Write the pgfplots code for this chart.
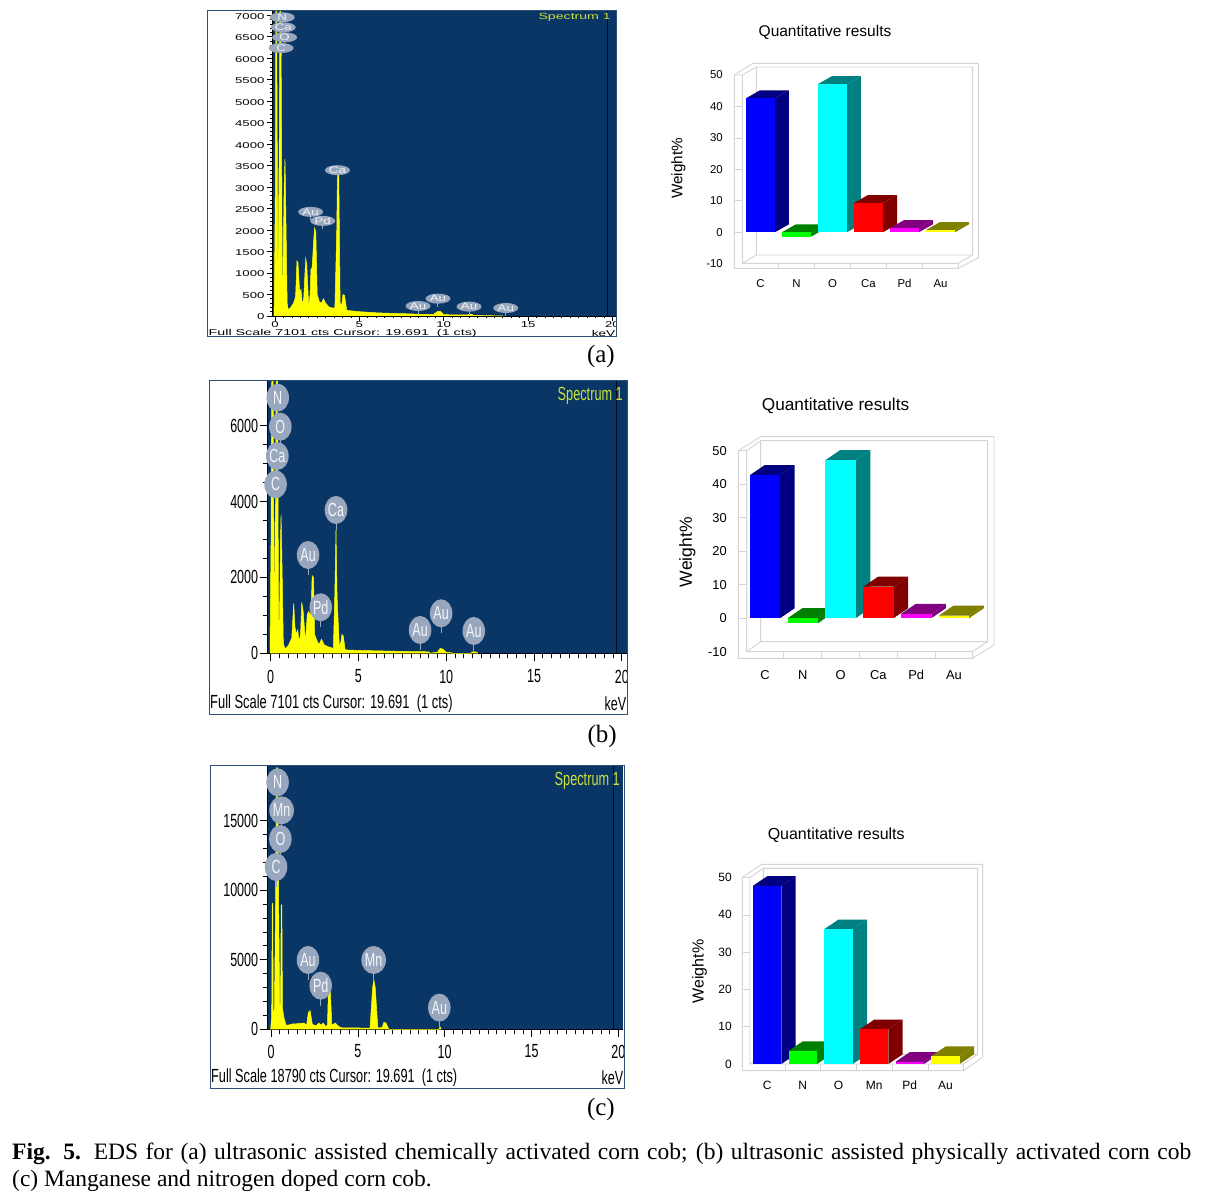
\documentclass[border=0pt]{standalone}
\usepackage{fontspec}
\usepackage{graphicx}
\usepackage{pgfplots}
\pgfplotsset{compat=1.18}
\usetikzlibrary{shapes.geometric}
\setmainfont{Liberation Sans}
\newfontfamily\serif{Liberation Serif}

\definecolor{specbg}{RGB}{10,54,102}
\definecolor{specborder}{RGB}{45,80,120}
\definecolor{spectxt}{RGB}{205,225,60}
\definecolor{bubcol}{RGB}{152,167,190}
\definecolor{framecol}{RGB}{212,212,212}
\definecolor{qblue}{RGB}{0,0,255}
\definecolor{qgreen}{RGB}{0,255,0}
\definecolor{qcyan}{RGB}{0,255,255}
\definecolor{qred}{RGB}{255,0,0}
\definecolor{qmag}{RGB}{255,0,255}
\definecolor{qyel}{RGB}{255,255,0}
\definecolor{cdark}{RGB}{0,0,128}
\definecolor{ndark}{RGB}{0,128,0}
\definecolor{odark}{RGB}{0,128,128}
\definecolor{cadark}{RGB}{128,0,0}
\definecolor{pddark}{RGB}{128,0,128}
\definecolor{audark}{RGB}{128,128,0}

\newcommand{\fs}[1]{\fontsize{#1}{#1}\selectfont}

% spectrum panel: font size, horizontal stretch
\pgfplotsset{
  spec/.style n args={2}{
    scale only axis, clip=false,
    axis x line*=bottom, axis y line*=left,
    axis line style={black,line width=.9pt,-},
    axis background/.style={fill=specbg},
    tick align=outside, tick style={black,line width=.7pt},
    scaled ticks=false,
    xtick={0,5,10,15,20}, minor x tick num=9, ymin=0,
    tick label style={font=\fs{#1}},
    /pgf/number format/1000 sep={},
    xticklabel={\scalebox{#2}[1]{\pgfmathprintnumber[assume math mode=true]{\tick}}},
    yticklabel={\scalebox{#2}[1]{\pgfmathprintnumber[assume math mode=true]{\tick}}},
  },
  yel/.style={fill=qyel,draw=qyel,line width=.5pt},
  cur/.style={color=black!75!specbg,line width=.7pt},
  quant/.style={
    scale only axis, clip=false,
    axis line style={draw=none}, major tick length=0pt,
    ytick={-10,0,10,20,30,40,50}, xtick={0,1,2,3,4,5},
    /pgf/number format/assume math mode=true,
    xticklabel style={text height=9pt,text depth=0pt},
    title={Quantitative results}, ylabel={Weight\%},
  },
}

% labelled bubble with its tail, (a) flat, (b)(c) tall
\newcommand{\bubA}[3]{%
  \draw[bubcol,line width=1pt] (axis cs:#1,#2) -- ++(0pt,-8pt);
  \node[ellipse,fill=bubcol,minimum width=25pt,minimum height=10pt,inner sep=0pt,text=white!85!bubcol] at (axis cs:#1,#2) {\fs{9.5}\scalebox{1.4}[1]{#3}};}
\newcommand{\bubB}[3]{%
  \draw[bubcol,line width=1pt] (axis cs:#1,#2) -- ++(0pt,-20pt);
  \node[ellipse,fill=bubcol,minimum width=22.5pt,minimum height=28pt,inner sep=0pt,text=white!90!bubcol] at (axis cs:#1,#2) {\fs{19}\scalebox{.66}[1]{#3}};}

% one 3D bar: index, value, front colour, dark colour; \hw \dx \dy \bw set per panel
\newcommand{\barbox}[4]{%
  \pgfmathsetmacro\xr{#1+\hw}\pgfmathsetmacro\xl{#1-\hw}%
  \pgfmathsetmacro\xR{\xr+\dx}\pgfmathsetmacro\xL{\xl+\dx}%
  \pgfmathsetmacro\yb{min(#2,0)}\pgfmathsetmacro\yt{max(#2,0)}%
  \pgfmathsetmacro\ybd{\yb+\dy}\pgfmathsetmacro\ytd{\yt+\dy}%
  \addplot[fill=#4,draw=none,forget plot] coordinates {(\xr,\yb)(\xR,\ybd)(\xR,\ytd)(\xr,\yt)};
  \addplot[fill=#4,draw=none,forget plot] coordinates {(\xl,\yt)(\xL,\ytd)(\xR,\ytd)(\xr,\yt)};
  \addplot[ybar,bar width=\bw,bar shift=0pt,fill=#3,draw=none,forget plot] coordinates {(#1,#2)};}

\begin{document}
\begin{tikzpicture}
\useasboundingbox (0pt,0pt) rectangle (1210pt,1195pt);
\fill[white] (0pt,0pt) rectangle (1210pt,1195pt);

% 3D walls behind the bar charts, in zoom pixels
\begin{scope}[shift={(660pt,1180pt)},x=.33333pt,y=-.33333pt,framecol,line width=.9pt]
  \draw (223,180)--(278,145)--(955,145)--(955,728)--(895,760)--(223,760)--cycle;
  \draw (223,180)--(247,180)--(289,156)--(938,156)--(938,720)--(895,745)--(247,745)--(247,180);
  \draw (289,156)--(289,720)--(938,720) (247,745)--(289,720) (895,745)--(895,760);
  \foreach \y in {275,369,463,557,652} \draw (223,\y)--(247,\y);
  \foreach \x in {355,463,571,679,787} \draw (\x,745)--(\x,760);
\end{scope}
\begin{scope}[shift={(670pt,805pt)},x=.33333pt,y=-.33333pt,framecol,line width=.9pt]
  \draw (205,182)--(272,140)--(972,140)--(972,765)--(908,805)--(205,805)--cycle;
  \draw (205,182)--(230,182)--(272,152)--(953,152)--(953,755)--(908,785)--(230,785)--(230,182);
  \draw (272,152)--(272,755)--(953,755) (230,785)--(272,755) (908,785)--(908,805);
  \foreach \y in {283,383,484,584,685} \draw (205,\y)--(230,\y);
  \foreach \x in {341,454,568,682,796} \draw (\x,785)--(\x,805);
\end{scope}
\begin{scope}[shift={(680pt,375pt)},x=.33333pt,y=-.33333pt,framecol,line width=.9pt]
  \draw (187,172)--(245,133)--(908,133)--(908,712)--(850,752)--(187,752)--cycle;
  \draw (187,172)--(210,172)--(250,145)--(893,145)--(893,703)--(850,732)--(210,732)--(210,172);
  \draw (250,145)--(250,703)--(893,703) (210,732)--(250,703) (850,732)--(850,752);
  \foreach \y in {285,397,508,620} \draw (187,\y)--(210,\y);
  \foreach \x in {315,422,530,637,744} \draw (\x,732)--(\x,752);
\end{scope}

% ---- spectrum (a)
\begin{axis}[spec={8.5}{1.55}, at={(272pt,879pt)}, width=344pt, height=305pt,
  xmin=-.178, xmax=20.21, ymax=7101, ytick={0,500,...,7000}, minor y tick num=4,
  major tick length=5pt, minor tick length=2pt,
  xticklabel style={yshift=3pt}, yticklabel style={xshift=1pt,yshift=-1pt}]
\addplot[yel] coordinates {(-.05,0)(.02,3000)(.05,7101)(.1,7101)(.17,600)(.25,4000)(.29,7101)(.35,7101)
  (.43,900)(.47,800)(.54,3000)(.59,3650)(.62,3000)(.72,300)(.78,150)(.9,180)(1.1,300)(1.22,450)(1.3,1280)
  (1.36,1250)(1.46,560)(1.54,620)(1.62,260)(1.7,400)(1.82,1340)(1.88,1200)(2,220)(2.08,500)(2.13,1080)(2.2,1130)
  (2.3,1800)(2.35,2050)(2.42,1950)(2.5,500)(2.63,330)(2.75,300)(2.87,400)(3,300)(3.2,210)(3.46,180)(3.55,200)
  (3.66,2000)(3.7,3280)(3.78,3280)(3.86,300)(3.95,250)(4.03,500)(4.12,480)(4.25,130)(5,100)(6,75)(7,60)(8,50)
  (8.6,40)(9.4,40)(9.65,110)(9.8,110)(10,30)(11.4,25)(11.6,45)(11.8,15)(13,5)(13.5,0)};
\addplot[cur] coordinates {(19.691,0)(19.691,7101)};
\bubA{.43}{6954}{N}\bubA{.49}{6721}{Ca}\bubA{.57}{6488}{O}\bubA{.36}{6239}{C}
\bubA{3.70}{3395}{Ca}\bubA{2.11}{2424}{Au}\bubA{2.83}{2214}{Pd}
\bubA{8.48}{233}{Au}\bubA{9.66}{404}{Au}\bubA{11.5}{218}{Au}\bubA{13.68}{186}{Au}
\end{axis}

% ---- spectrum (b)
\begin{axis}[spec={19}{.66}, at={(267.7pt,541.7pt)}, width=359pt, height=272.3pt,
  xmin=-.171, xmax=20.28, ymax=7180, ytick={0,2000,4000,6000}, minor y tick num=3,
  major tick length=8pt, minor tick length=5pt,
  xticklabel style={yshift=-5pt}, yticklabel style={xshift=2pt}]
\addplot[yel] coordinates {(-.04,0)(.02,3000)(.06,7180)(.14,7180)(.2,700)(.27,4000)(.31,7180)(.39,7180)
  (.45,900)(.5,800)(.56,3000)(.59,3650)(.62,3000)(.72,250)(.82,115)(1,200)(1.2,400)(1.31,1318)(1.38,700)(1.46,500)
  (1.54,615)(1.62,300)(1.7,500)(1.77,1345)(1.85,1100)(1.98,300)(2.08,1000)(2.15,1100)(2.3,1000)(2.36,2047)(2.44,2000)(2.5,500)
  (2.62,350)(2.75,230)(2.9,370)(3.05,220)(3.3,170)(3.57,130)(3.65,1500)(3.72,3250)(3.78,1500)(3.91,175)(4,300)(4.06,500)(4.14,450)
  (4.24,90)(5,75)(6.5,60)(8,45)(9,40)(9.1,0)(9.3,20)(9.5,30)(9.65,130)(9.8,110)(10,30)(10.3,15)(10.35,0)(11.4,0)(11.47,40)(11.7,40)(11.8,0)};
\addplot[cur] coordinates {(19.691,0)(19.691,7180)};
\bubB{.40}{6740}{N}\bubB{.55}{5975}{O}\bubB{.38}{5202}{Ca}\bubB{.28}{4455}{C}
\bubB{3.72}{3779}{Ca}\bubB{2.13}{2592}{Au}\bubB{2.85}{1213}{Pd}
\bubB{8.51}{615}{Au}\bubB{9.71}{1054}{Au}\bubB{11.57}{589}{Au}
\end{axis}

% ---- spectrum (c)
\begin{axis}[spec={19}{.66}, at={(267.7pt,165.7pt)}, width=355.6pt, height=263.3pt,
  xmin=-.19, xmax=20.28, ymax=18930, ytick={0,5000,10000,15000}, minor y tick num=4,
  major tick length=8pt, minor tick length=5pt,
  xticklabel style={yshift=-4pt}, yticklabel style={xshift=2pt}]
\addplot[yel] coordinates {(-.02,0)(.04,1000)(.07,9058)(.1,9058)(.13,1000)(.2,1500)(.26,9000)(.31,18800)(.39,18800)(.44,9000)
  (.5,1800)(.55,1500)(.585,8940)(.625,8940)(.66,1500)(.75,800)(.86,310)(1,300)(1.2,380)(1.5,400)(1.75,430)(1.9,450)(2.05,300)(2.15,1200)(2.25,1340)
  (2.38,350)(2.6,250)(2.75,450)(2.9,300)(3,450)(3.15,200)(3.25,300)(3.3,2700)(3.42,2700)(3.5,300)(3.7,450)(3.9,200)(4.1,100)
  (5.7,90)(5.85,3000)(5.92,3550)(6,3000)(6.15,100)(6.4,120)(6.5,500)(6.62,450)(6.75,80)(6.8,0)(9.65,0)(9.73,190)(9.8,0)};
\addplot[cur] coordinates {(19.691,0)(19.691,18930)};
\bubB{.38}{17757}{N}\bubB{.61}{15744}{Mn}\bubB{.54}{13683}{O}\bubB{.29}{11670}{C}
\bubB{2.13}{4984}{Au}\bubB{2.86}{3139}{Pd}\bubB{5.91}{4984}{Mn}\bubB{9.69}{1558}{Au}
\end{axis}

% ---- weight% (a)
\def\hw{.403}\def\dx{.389}\def\dy{2.54}\def\bw{29pt}
\begin{axis}[quant, at={(734.3pt,931.3pt)}, width=224pt, height=188.7pt,
  xmin=-.727, xmax=5.495, ymin=-10, ymax=50,
  xticklabels={C,N,O,Ca,Pd,Au},
  tick label style={font=\fs{11.4}},
  xticklabel style={yshift=-11pt}, yticklabel style={xshift=-8pt},
  title style={font=\fs{15.5},yshift=0pt,at={(axis description cs:.405,1.1925)},anchor=center},
  every axis y label/.append style={font=\fs{15.3},at={(axis description cs:-.25,.505)},anchor=center}]
\barbox{0}{42.6}{qblue}{cdark}
\barbox{1}{-1.4}{qgreen}{ndark}
\barbox{2}{47.1}{qcyan}{odark}
\barbox{3}{9.3}{qred}{cadark}
\barbox{4}{1.3}{qmag}{pddark}
\barbox{5}{0.7}{qyel}{audark}
\end{axis}

% ---- weight% (b)
\def\hw{.399}\def\dx{.388}\def\dy{2.98}\def\bw{30.2pt}
\begin{axis}[quant, at={(738.3pt,543.3pt)}, width=234.4pt, height=201pt,
  xmin=-.705, xmax=5.494, ymin=-10, ymax=50,
  xticklabels={C,N,O,Ca,Pd,Au},
  tick label style={font=\fs{12.9}},
  xticklabel style={yshift=-15pt}, yticklabel style={xshift=-8pt},
  title style={font=\fs{17.2},yshift=0pt,at={(axis description cs:.415,1.194)},anchor=center},
  every axis y label/.append style={font=\fs{17.5},at={(axis description cs:-.217,.495)},anchor=center}]
\barbox{0}{42.7}{qblue}{cdark}
\barbox{1}{-1.5}{qgreen}{ndark}
\barbox{2}{47.2}{qcyan}{odark}
\barbox{3}{9.4}{qred}{cadark}
\barbox{4}{1.3}{qmag}{pddark}
\barbox{5}{0.8}{qyel}{audark}
\end{axis}

% ---- weight% (c)
\def\hw{.4}\def\dx{.402}\def\dy{2.59}\def\bw{28.5pt}
\begin{axis}[quant, at={(742.3pt,131pt)}, width=221pt, height=186.7pt,
  xmin=-.696, xmax=5.5, ymin=0, ymax=50, ytick={0,10,20,30,40,50},
  xticklabels={C,N,O,Mn,Pd,Au},
  tick label style={font=\fs{12}},
  xticklabel style={yshift=-13pt}, yticklabel style={xshift=-7pt},
  title style={font=\fs{16},yshift=0pt,at={(axis description cs:.425,1.193)},anchor=center},
  every axis y label/.append style={font=\fs{16},at={(axis description cs:-.194,.495)},anchor=center}]
\barbox{0}{47.7}{qblue}{cdark}
\barbox{1}{3.5}{qgreen}{ndark}
\barbox{2}{36.1}{qcyan}{odark}
\barbox{3}{9.3}{qred}{cadark}
\barbox{4}{0.6}{qmag}{pddark}
\barbox{5}{2.1}{qyel}{audark}
\end{axis}

% ---- page text, y measured from the top
\begin{scope}[x=1pt,y=-1pt,yshift=1195pt]
  % the 20 tick labels run off the frame
  \fill[white] (616.8,318) rectangle (645,336);
  \fill[white] (627.5,655) rectangle (650,714);
  \fill[white] (624.2,1031) rectangle (650,1087);
  \draw[specborder,line width=1pt] (207.5,11) rectangle (616.5,337);
  \draw[specborder,line width=1pt] (209.5,380.5) rectangle (627,715);
  \draw[specborder,line width=1pt] (210.5,765.5) rectangle (624,1088);

  \node[anchor=west,inner sep=0pt] at (208.5,333) {\fs{8.5}\scalebox{1.68}[1]{Full Scale 7101 cts Cursor: 19.691~~(1 cts)}};
  \node[anchor=east,inner sep=0pt] at (615.5,333) {\fs{8.5}\scalebox{1.6}[1]{keV}};
  \node[anchor=east,inner sep=0pt,text=spectxt] at (611,17) {\fs{9}\scalebox{1.57}[1]{Spectrum 1}};

  \node[anchor=west,inner sep=0pt] at (210,704) {\fs{19}\scalebox{.68}[1]{Full Scale 7101 cts Cursor: 19.691~~(1 cts)}};
  \node[anchor=east,inner sep=0pt] at (626.5,704) {\fs{19}\scalebox{.66}[1]{keV}};
  \node[anchor=east,inner sep=0pt,text=spectxt] at (623,396) {\fs{19}\scalebox{.67}[1]{Spectrum 1}};

  \node[anchor=west,inner sep=0pt] at (211,1078) {\fs{19}\scalebox{.67}[1]{Full Scale 18790 cts Cursor: 19.691~~(1 cts)}};
  \node[anchor=east,inner sep=0pt] at (623.5,1078) {\fs{19}\scalebox{.66}[1]{keV}};
  \node[anchor=east,inner sep=0pt,text=spectxt] at (620,781) {\fs{19}\scalebox{.67}[1]{Spectrum 1}};

  \node[anchor=east,inner sep=0pt,font=\serif\fs{25}] at (615,356) {(a)};
  \node[anchor=east,inner sep=0pt,font=\serif\fs{25}] at (617,736) {(b)};
  \node[anchor=east,inner sep=0pt,font=\serif\fs{25}] at (615,1109) {(c)};

  \node[anchor=north west,inner sep=0pt] at (12,1143) {\parbox{1179pt}{\serif\fontsize{23.5}{27}\selectfont
    \textbf{Fig. 5.} EDS for (a) ultrasonic assisted chemically activated corn cob; (b) ultrasonic assisted physically activated corn cob\linebreak
    (c) Manganese and nitrogen doped corn cob.}};
\end{scope}
\end{tikzpicture}
\end{document}
